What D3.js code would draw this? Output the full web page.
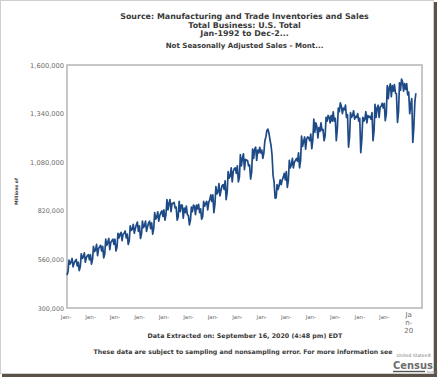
<!DOCTYPE html>
<html><head><meta charset="utf-8">
<script src="https://cdn.jsdelivr.net/npm/d3@7"></script>
<style>html,body{margin:0;padding:0;background:#fff;} svg{display:block;font-family:"DejaVu Sans",Verdana,sans-serif;}</style>
</head><body><svg id="c" width="439" height="377"></svg>
<script>
// Monthly sales, Jan-1992 .. Jul-2020, in thousands of millions of dollars
const startYear = 1992;
const sales = [
 476,495,556,535,545,565,520,540,552,560,525,545,
 500,522,590,565,573,595,545,570,580,585,558,585,
 535,560,630,602,610,640,580,618,628,635,605,630,
 568,590,668,635,650,672,612,652,660,668,640,668,
 605,625,700,675,695,705,660,695,700,712,675,695,
 640,660,740,715,720,748,700,725,745,760,710,740,
 672,695,765,730,740,765,710,735,755,765,725,755,
 695,725,810,775,785,815,765,795,810,820,790,825,
 770,800,880,825,860,880,815,860,860,865,835,840,
 770,790,870,815,850,850,780,835,810,845,800,795,
 745,770,840,815,850,845,800,850,830,855,810,830,
 775,790,870,845,860,870,825,865,880,905,870,905,
 810,855,950,910,920,965,900,930,955,960,935,980,
 880,920,1030,995,1005,1050,975,1030,1045,1050,1020,1060,
 975,1000,1120,1060,1100,1125,1040,1095,1090,1090,1060,1065,
 990,1025,1150,1100,1150,1160,1090,1145,1130,1160,1130,1145,
 1100,1130,1195,1215,1250,1257,1235,1200,1170,1120,1010,975,
 888,890,960,935,955,985,960,985,1000,1020,985,1030,
 945,985,1090,1050,1065,1100,1050,1080,1090,1100,1085,1130,
 1050,1090,1220,1165,1190,1215,1150,1205,1215,1210,1195,1230,
 1152,1200,1310,1240,1290,1270,1210,1265,1245,1290,1250,1255,
 1195,1220,1320,1300,1330,1320,1290,1330,1300,1350,1300,1315,
 1195,1260,1370,1350,1397,1380,1340,1370,1360,1385,1320,1335,
 1160,1215,1345,1320,1330,1355,1310,1325,1320,1340,1300,1315,
 1131,1200,1320,1300,1310,1350,1290,1330,1320,1325,1310,1345,
 1195,1250,1390,1320,1370,1385,1320,1375,1380,1395,1370,1395,
 1302,1340,1490,1420,1480,1499,1430,1490,1460,1495,1450,1445,
 1293,1350,1505,1465,1525,1510,1460,1500,1470,1500,1440,1455,
 1340,1390,1420,1186,1260,1400,1449
];
const yTicks = [300, 560, 820, 1080, 1340, 1600];
const xTickYears = [1992,1994,1996,1998,2000,2002,2004,2006,2008,2010,2012,2014,2016,2018,2020];
const titleLines = ["Source: Manufacturing and Trade Inventories and Sales", "Total Business: U.S. Total", "Jan-1992 to Dec-2..."];
const subtitle = "Not Seasonally Adjusted Sales - Mont...";
const yAxisTitle = "Millions of";
const footerLines = ["Data Extracted on: September 16, 2020 (4:48 pm) EDT", "These data are subject to sampling and nonsampling error. For more information see"];

const svg = d3.select("#c");
const L = 67, R = 422, T = 65, B = 308;

function fit(t, w) {
  const cur = t.node().getComputedTextLength();
  const fs = parseFloat(t.attr("font-size"));
  t.attr("font-size", fs * w / cur);
  return t;
}

// frame
svg.append("rect").attr("x", 0.5).attr("y", 0.5).attr("width", 433).attr("height", 373)
  .attr("fill", "#fff").attr("stroke", "#cfcfcf");
svg.append("rect").attr("x", 434).attr("y", 2).attr("width", 3).attr("height", 375).attr("fill", "#5a5247");
svg.append("rect").attr("x", 2).attr("y", 374).attr("width", 435).attr("height", 3).attr("fill", "#5a5247");

const x = d3.scaleTime().domain([new Date(1992, 0, 1), new Date(2021, 0, 1)]).range([L, R]);
const y = d3.scaleLinear().domain([300, 1600]).range([B, T]);

const data = sales.map((v, i) => ({ date: new Date(startYear, i, 1), v }));

// plot frame
svg.append("rect").attr("x", L).attr("y", T).attr("width", R - L).attr("height", B - T)
  .attr("fill", "none").attr("stroke", "#b4b4b4").attr("stroke-width", 1.5);

// titles: size fitted from the first line, others share it
const t0 = svg.append("text").attr("x", 244.5).attr("y", 19).attr("text-anchor", "middle")
  .attr("font-weight", "bold").attr("fill", "#3a3a3a").attr("font-size", 9).text(titleLines[0]);
fit(t0, 249);
const tfs = parseFloat(t0.attr("font-size"));
[[titleLines[1], 27.5], [titleLines[2], 35.5]].forEach(([s, by]) => {
  svg.append("text").attr("x", 244.5).attr("y", by).attr("text-anchor", "middle")
    .attr("font-weight", "bold").attr("fill", "#3a3a3a").attr("font-size", tfs).text(s);
});
const st = svg.append("text").attr("x", 244.5).attr("y", 48).attr("text-anchor", "middle")
  .attr("font-weight", "bold").attr("fill", "#3a3a3a").attr("font-size", 8).text(subtitle);
fit(st, 158);

// y axis labels
const fmt = d3.format(",");
yTicks.forEach(v => {
  const t = svg.append("text").attr("x", 64).attr("y", y(v) + 2.5).attr("text-anchor", "end")
    .attr("fill", "#6a6a6a").attr("font-size", 7).text(fmt(v * 1000));
  fit(t, fmt(v * 1000).length * 34 / 9);
});

// y axis title
const yt = svg.append("text").attr("transform", "translate(18,191.5) rotate(-90)")
  .attr("text-anchor", "middle").attr("font-weight", "bold").attr("fill", "#3a3a3a")
  .attr("font-size", 7).text(yAxisTitle);
fit(yt, 27);

// x axis labels
xTickYears.forEach((yr, i) => {
  const cx = x(new Date(yr, 0, 1));
  if (i < xTickYears.length - 1) {
    const t = svg.append("text").attr("x", cx - 1).attr("y", 318.5).attr("text-anchor", "middle")
      .attr("fill", "#6a6a6a").attr("font-size", 7).text("Jan-");
    fit(t, 10.5);
  } else {
    const parts = ["Ja", "n-", String(yr).slice(2)];
    parts.forEach((p, j) => {
      svg.append("text").attr("x", cx - 1).attr("y", 317 + j * 8).attr("text-anchor", "middle")
        .attr("fill", "#6a6a6a").attr("font-size", 7).text(p);
    });
  }
});

// line
svg.append("path").datum(data)
  .attr("d", d3.line().x(d => x(d.date)).y(d => y(d.v)))
  .attr("fill", "none").attr("stroke", "#1e4a86").attr("stroke-width", 1.7)
  .attr("stroke-linejoin", "round");

// footer
const f1 = svg.append("text").attr("x", 245).attr("y", 338).attr("text-anchor", "middle")
  .attr("font-weight", "bold").attr("fill", "#3a3a3a").attr("font-size", 7).text(footerLines[0]);
fit(f1, 195);
const f2 = svg.append("text").attr("x", 243).attr("y", 354).attr("text-anchor", "middle")
  .attr("font-weight", "bold").attr("fill", "#3a3a3a").attr("font-size", 7).text(footerLines[1]);
fit(f2, 299);

// census logo
const us = svg.append("text").attr("x", 414).attr("y", 356.5).attr("text-anchor", "middle")
  .attr("fill", "#777").attr("font-size", 4).text("United States\u00AE");
fit(us, 35);
const cz = svg.append("text").attr("x", 413).attr("y", 369).attr("text-anchor", "middle")
  .attr("font-weight", "bold").attr("fill", "#6f6f6f").attr("font-size", 13).text("Census");
fit(cz, 40);
svg.append("rect").attr("x", 393).attr("y", 370.8).attr("width", 32).attr("height", 1.4).attr("fill", "#555");
svg.append("text").attr("x", 427).attr("y", 373).attr("fill", "#888").attr("font-size", 3).text("Bureau");
</script></body></html>
